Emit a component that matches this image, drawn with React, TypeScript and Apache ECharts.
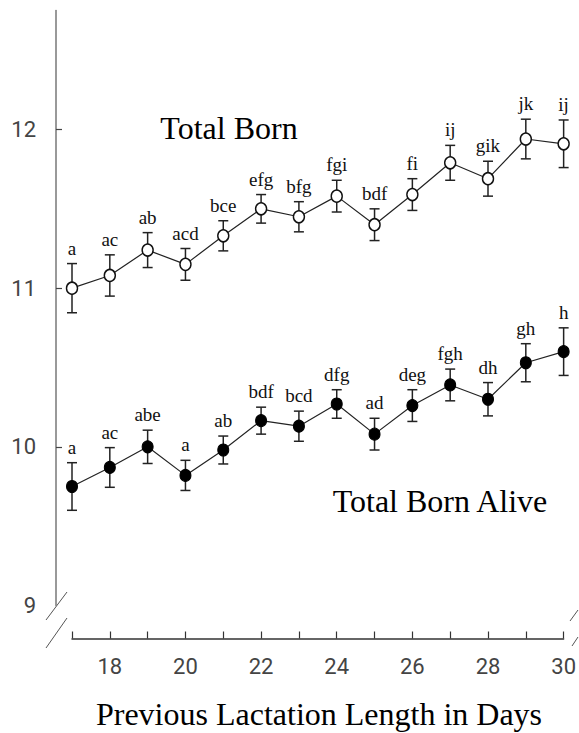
import React, { useEffect, useRef } from "react";
import * as echarts from "echarts";

// Previous lactation length (days)
const days = [17, 18, 19, 20, 21, 22, 23, 24, 25, 26, 27, 28, 29, 30];

// Total Born (open circles)
const totalBorn = [11.0, 11.08, 11.24, 11.15, 11.33, 11.5, 11.45, 11.58, 11.4, 11.59, 11.79, 11.69, 11.94, 11.91];
const totalBornErr = [0.155, 0.13, 0.11, 0.1, 0.095, 0.09, 0.095, 0.1, 0.1, 0.1, 0.11, 0.11, 0.125, 0.15];
const totalBornLetters = ["a", "ac", "ab", "acd", "bce", "efg", "bfg", "fgi", "bdf", "fi", "ij", "gik", "jk", "ij"];

// Total Born Alive (filled circles)
const bornAlive = [9.75, 9.87, 10.0, 9.82, 9.98, 10.165, 10.13, 10.27, 10.08, 10.26, 10.39, 10.3, 10.53, 10.6];
const bornAliveErr = [0.15, 0.125, 0.105, 0.095, 0.088, 0.085, 0.095, 0.09, 0.1, 0.1, 0.1, 0.105, 0.12, 0.15];
const bornAliveLetters = ["a", "ac", "abe", "a", "ab", "bdf", "bcd", "dfg", "ad", "deg", "fgh", "dh", "gh", "h"];

// Axis labels
const yTickLabels = [9, 10, 11, 12];
const xTickLabels = [18, 20, 22, 24, 26, 28, 30];

const SERIF = "'Liberation Serif', 'Times New Roman', serif";
const SANS = "'Liberation Sans Narrow', 'Roboto', sans-serif";

function errorSeries(values: number[], errs: number[], letters: string[]) {
  return {
    type: "custom",
    z: 1,
    silent: true,
    data: days.map((d, i) => [d, values[i] - errs[i], values[i] + errs[i], i]),
    renderItem: (_params: any, api: any) => {
      const x = api.value(0);
      const lo = api.coord([x, api.value(1)]);
      const hi = api.coord([x, api.value(2)]);
      const idx = api.value(3);
      const hw = 5;
      const st = { stroke: "#222", lineWidth: 1.5 };
      return {
        type: "group",
        children: [
          { type: "line", shape: { x1: lo[0], y1: lo[1], x2: hi[0], y2: hi[1] }, style: st },
          { type: "line", shape: { x1: lo[0] - hw, y1: lo[1], x2: lo[0] + hw, y2: lo[1] }, style: st },
          { type: "line", shape: { x1: hi[0] - hw, y1: hi[1], x2: hi[0] + hw, y2: hi[1] }, style: st },
          {
            type: "text",
            style: {
              text: letters[idx],
              x: hi[0],
              y: hi[1] - 6,
              align: "center",
              verticalAlign: "bottom",
              fontSize: 19,
              fontFamily: SERIF,
              fill: "#111",
            },
          },
        ],
      };
    },
  };
}

export default function App() {
  const ref = useRef<HTMLDivElement>(null);

  useEffect(() => {
    if (!ref.current) return;
    const chart = echarts.init(ref.current, undefined, { renderer: "svg" });
    const option: any = {
      animation: false,
      backgroundColor: "#ffffff",
      grid: { left: 72, right: 9, top: 10.5, bottom: 127.5, containLabel: false },
      xAxis: {
        type: "value",
        min: 17,
        max: 30,
        interval: 1,
        offset: 33,
        axisLine: { show: true, lineStyle: { color: "#333", width: 1.5 } },
        axisTick: { show: true, inside: true, length: 7, lineStyle: { color: "#333", width: 1.2 } },
        axisLabel: {
          customValues: xTickLabels,
          margin: 17,
          fontSize: 22,
          fontFamily: SANS,
          color: "#444",
        },
        splitLine: { show: false },
      },
      yAxis: {
        type: "value",
        min: 9,
        max: 12.75,
        interval: 1,
        offset: 16,
        axisLine: { show: true, onZero: false, lineStyle: { color: "#777", width: 1.5 } },
        axisTick: { show: true, inside: true, length: 6, customValues: [10, 11, 12], lineStyle: { color: "#444", width: 1.2 } },
        axisLabel: {
          customValues: yTickLabels,
          margin: 20,
          fontSize: 22,
          fontFamily: SANS,
          color: "#444",
        },
        splitLine: { show: false },
      },
      series: [
        errorSeries(totalBorn, totalBornErr, totalBornLetters),
        errorSeries(bornAlive, bornAliveErr, bornAliveLetters),
        {
          type: "line",
          z: 3,
          data: days.map((d, i) => [d, totalBorn[i]]),
          symbol: "circle",
          symbolSize: [11, 12],
          itemStyle: { color: "#ffffff", borderColor: "#111", borderWidth: 1.5 },
          lineStyle: { color: "#222", width: 1.2 },
        },
        {
          type: "line",
          z: 3,
          data: days.map((d, i) => [d, bornAlive[i]]),
          symbol: "circle",
          symbolSize: [11, 12],
          itemStyle: { color: "#000000", borderColor: "#000", borderWidth: 1 },
          lineStyle: { color: "#222", width: 1.2 },
        },
      ],
      graphic: [
        { type: "text", x: 229, y: 128, style: { text: "Total Born", align: "center", verticalAlign: "middle", fontSize: 32, fontFamily: SERIF, fill: "#000" } },
        { type: "text", x: 440, y: 501, style: { text: "Total Born Alive", align: "center", verticalAlign: "middle", fontSize: 32, fontFamily: SERIF, fill: "#000" } },
        { type: "text", x: 319, y: 714, style: { text: "Previous Lactation Length in Days", align: "center", verticalAlign: "middle", fontSize: 32, fontFamily: SERIF, fill: "#000" } },
        { type: "line", shape: { x1: 67, y1: 592, x2: 46, y2: 620 }, style: { stroke: "#555", lineWidth: 1 } },
        { type: "line", shape: { x1: 67, y1: 618, x2: 46, y2: 648 }, style: { stroke: "#555", lineWidth: 1 } },
        { type: "line", shape: { x1: 570, y1: 621, x2: 578, y2: 610 }, style: { stroke: "#555", lineWidth: 1 } },
        { type: "line", shape: { x1: 572, y1: 646, x2: 578, y2: 637 }, style: { stroke: "#555", lineWidth: 1 } },
      ],
    };
    chart.setOption(option);
    return () => chart.dispose();
  }, []);

  return <div ref={ref} style={{ position: "fixed", left: 0, top: 0, width: 579, height: 733, background: "#fff" }} />;
}
